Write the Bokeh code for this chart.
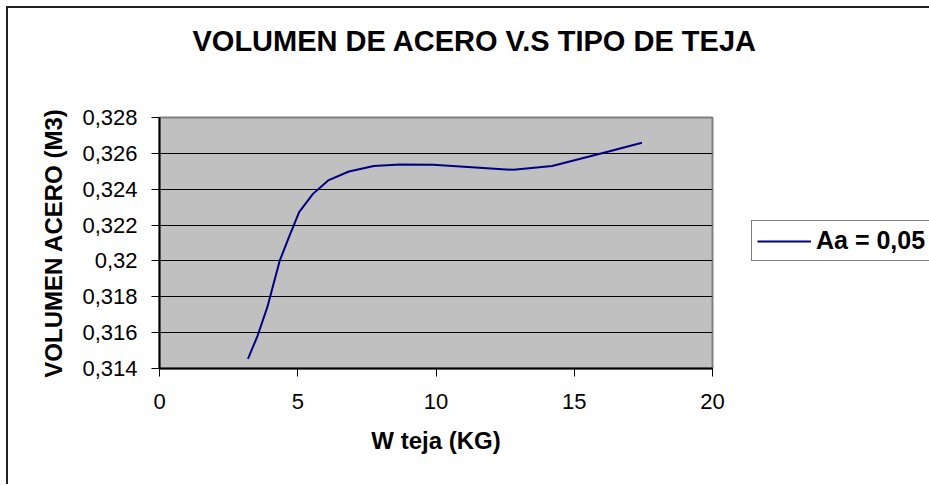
from bokeh.plotting import figure
from bokeh.models import FixedTicker, Legend, LegendItem, Title
from bokeh.embed import file_html
from bokeh.resources import INLINE

# ---- data ----
w_teja = [3.2, 3.55, 3.9, 4.35, 4.7, 5.05, 5.55, 6.1, 6.85, 7.75, 8.7, 9.9, 12.8, 14.2, 16.0, 17.45]
volumen = [0.31454, 0.31584, 0.31742, 0.32002, 0.32140, 0.32272, 0.32374, 0.32449,
           0.32499, 0.32530, 0.32538, 0.32536, 0.32508, 0.32529, 0.32601, 0.32659]
series_label = "Aa = 0,05"

x_ticks = [0, 5, 10, 15, 20]
x_tick_labels = ["0", "5", "10", "15", "20"]
y_ticks = [0.314, 0.316, 0.318, 0.32, 0.322, 0.324, 0.326, 0.328]
y_tick_labels = ["0,314", "0,316", "0,318", "0,32", "0,322", "0,324", "0,326", "0,328"]

title_text = "VOLUMEN DE ACERO V.S TIPO DE TEJA"
x_label = "W teja (KG)"
y_label = "VOLUMEN ACERO (M3)"

FONT = "Liberation Sans"

p = figure(
    frame_width=553, frame_height=251,
    min_border_left=151, min_border_right=216,
    min_border_top=109, min_border_bottom=116,
    x_range=(0, 20), y_range=(0.314, 0.328),
    output_backend="svg", toolbar_location=None,
    background_fill_color="#C0C0C0", border_fill_color="white",
    styles={"margin-left": "6px", "margin-top": "6px",
            "border-left": "2px solid #222222", "border-top": "2px solid #222222"},
)

p.add_layout(Title(text=title_text, align="left", offset=33, standoff=10,
                   padding={"left": 0, "right": 0, "top": 0, "bottom": 56},
                   text_font=FONT, text_font_size="29px", text_font_style="bold",
                   text_color="black"), "above")

p.outline_line_color = "#808080"
p.outline_line_width = 2

p.xgrid.visible = False
p.ygrid.grid_line_color = "black"
p.ygrid.grid_line_width = 1

p.xaxis.ticker = FixedTicker(ticks=x_ticks)
p.yaxis.ticker = FixedTicker(ticks=y_ticks)
p.xaxis.major_label_overrides = {t: l for t, l in zip(x_ticks, x_tick_labels)}
p.yaxis.major_label_overrides = {t: l for t, l in zip(y_ticks, y_tick_labels)}

for ax in (p.xaxis, p.yaxis):
    ax.axis_line_color = "black"
    ax.axis_line_width = 2
    ax.major_tick_line_color = "black"
    ax.major_tick_line_width = 1
    ax.major_tick_out = 8
    ax.major_tick_in = 0
    ax.minor_tick_line_color = None
    ax.major_label_text_font = FONT
    ax.major_label_text_font_size = "22px"
    ax.major_label_text_color = "black"
    ax.axis_label_text_font = FONT
    ax.axis_label_text_font_size = "24px"
    ax.axis_label_text_font_style = "bold"
    ax.axis_label_text_color = "black"

p.xaxis.axis_label = x_label
p.yaxis.axis_label = y_label
p.xaxis.major_label_standoff = 17
p.yaxis.major_label_standoff = 14
p.xaxis.axis_label_standoff = 15
p.yaxis.axis_label_standoff = 12

r = p.line(w_teja, volumen, line_color="#000080", line_width=2)

legend = Legend(
    items=[LegendItem(label=series_label, renderers=[r])],
    location=(39, 107),
    border_line_color="black", border_line_width=1.5,
    background_fill_color="white", background_fill_alpha=1,
    padding=5, spacing=0, margin=0,
    glyph_width=54, glyph_height=26, label_standoff=5,
    label_text_font=FONT, label_text_font_size="25px", label_text_font_style="bold",
    label_text_color="black",
)
p.add_layout(legend, "right")

open("out.html", "w").write(file_html(p, INLINE))
